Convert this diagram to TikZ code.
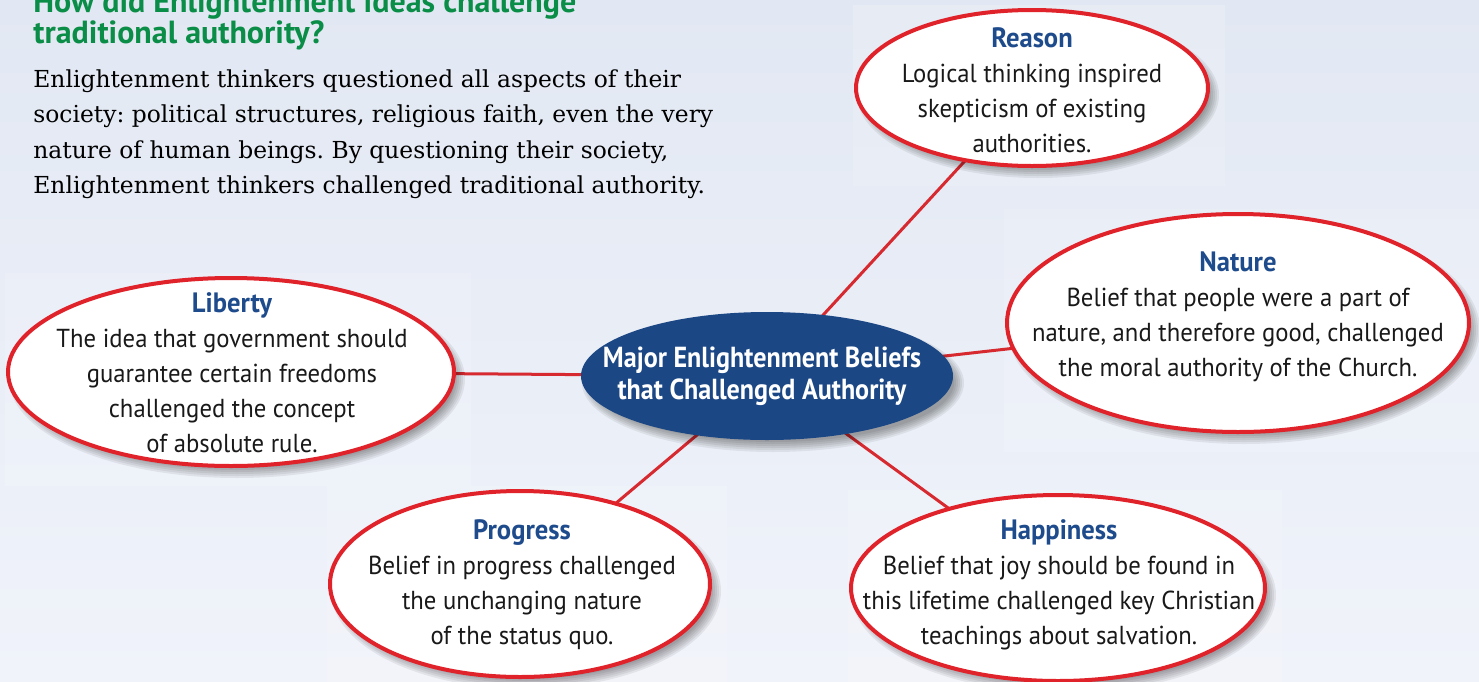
\documentclass[tikz,border=0pt]{standalone}
\usepackage{fontspec}
\setmainfont{DejaVu Serif}
\newfontfamily\bodysans[FakeStretch=0.95]{PT Sans}
\newfontfamily\condsans[FakeStretch=0.9]{PT Sans}
\newfontfamily\ttlsans{PT Sans}
\usetikzlibrary{shapes.geometric}
\pgfdeclarelayer{bg}
\pgfsetlayers{bg,main}
\definecolor{bgtop}{HTML}{E2E8F3}
\definecolor{bgbot}{HTML}{F0F3FA}
\definecolor{ttlgreen}{HTML}{0A8D47}
\definecolor{headblue}{HTML}{1E4B8C}
\definecolor{ringred}{HTML}{E0232B}
\definecolor{linered}{HTML}{D62A30}
\definecolor{hubblue}{HTML}{1B4785}
\tikzset{
  idea/.style={ellipse, draw=ringred, line width=2pt, fill=white, inner sep=0pt},
  ideatext/.style={align=center, inner sep=0pt, text=black!90,
    font=\bodysans\fontsize{13}{17.5}\selectfont},
  hub/.style={ellipse, fill=hubblue, inner sep=0pt},
  hubtext/.style={align=center, inner sep=0pt, text=white,
    font=\condsans\bfseries\fontsize{14.5}{16}\selectfont},
  link/.style={draw=linered, line width=1.5pt},
  ttl/.style={anchor=base west, inner sep=0pt, text=ttlgreen,
    font=\ttlsans\bfseries\fontsize{16}{18}\selectfont},
  para/.style={anchor=base west, inner sep=0pt, text=black,
    font=\fontsize{11.7}{17.7}\selectfont},
  shadowfill/.style={fill=black, opacity=0.065},
  panel/.style={fill=white, opacity=0.15},
}
\newcommand{\hd}[1]{{\fontsize{14}{17.5}\selectfont\bfseries\color{headblue}#1}}
% faint backing panel: centre x, centre y, x radius, y radius
\newcommand{\backpanel}[4]{%
  \fill[panel] (#1-#3-3,#2-#4-5) rectangle (#1+#3+17,#2+#4+20);%
}
% soft shadow: centre x, centre y, x radius, y radius (picture units)
\newcommand{\softshadow}[4]{%
  \foreach \k in {0,...,5}{%
    \fill[shadowfill] (#1+6,#2+7) ellipse [x radius={#3+5-2*\k}, y radius={#4+5-2*\k}];
  }%
}
\begin{document}
\frenchspacing
\begin{tikzpicture}[x=0.5pt,y=-0.5pt]
\useasboundingbox (0,0) rectangle (1479,681);
\begin{pgfonlayer}{bg}
  \shade[top color=bgtop, bottom color=bgbot] (0,0) rectangle (1479,681);
  \backpanel{1032}{88}{176}{78}
  \backpanel{1238}{323}{231}{109}
  \backpanel{231}{372}{223}{94}
  \backpanel{520}{584}{190}{93}
  \backpanel{1058}{588}{207}{93}
\end{pgfonlayer}

% title and paragraph
\node[ttl] (t1) at (33,12) {How did Enlightenment ideas challenge};
\node[ttl] (t2) at (33,43) {traditional authority?};
\node[para] (p1) at (33,87) {Enlightenment thinkers questioned all aspects of their};
\node[para] (p2) at (33,122.5) {society: political structures, religious faith, even the very};
\node[para] (p3) at (33,158) {nature of human beings. By questioning their society,};
\node[para] (p4) at (33,193.5) {Enlightenment thinkers challenged traditional authority.};

% shadows
\softshadow{1032}{88}{176}{78}
\softshadow{1238}{323}{231}{109}
\softshadow{231}{372}{223}{94}
\softshadow{520}{584}{190}{93}
\softshadow{1058}{588}{207}{93}
\softshadow{767}{376}{186}{64}

% ellipses
\node[idea, minimum width=176pt, minimum height=78pt] (reason) at (1032,88) {};
\node[idea, minimum width=231pt, minimum height=109pt] (nature) at (1238,323) {};
\node[idea, minimum width=223pt, minimum height=94pt] (liberty) at (231,372) {};
\node[idea, minimum width=190pt, minimum height=93pt] (progress) at (520,584) {};
\node[idea, minimum width=207pt, minimum height=93pt] (happiness) at (1058,588) {};
\node[hub, minimum width=186pt, minimum height=64pt] (hub) at (767,376) {};

\node[ideatext] (reason-t) at (1032,90) {\hd{Reason}\\Logical thinking inspired\\skepticism of existing\\authorities.};
\node[ideatext] (nature-t) at (1238,317) {\hd{Nature}\\Belief that people were a part of\\nature, and therefore good, challenged\\the moral authority of the Church.};
\node[ideatext] (liberty-t) at (232,373) {\hd{Liberty}\\The idea that government should\\guarantee certain freedoms\\challenged the concept\\of absolute rule.};
\node[ideatext] (progress-t) at (522,585) {\hd{Progress}\\Belief in progress challenged\\the unchanging nature\\of the status quo.};
\node[ideatext] (happiness-t) at (1059,585) {\hd{Happiness}\\Belief that joy should be found in\\this lifetime challenged key Christian\\teachings about salvation.};
\node[hubtext] (hub-t) at (762,376) {Major Enlightenment Beliefs\\that Challenged Authority};

\begin{pgfonlayer}{bg}
  \draw[link] (hub.center) -- (reason.center);
  \draw[link] (hub.center) -- (nature.center);
  \draw[link] (hub.center) -- (liberty.center);
  \draw[link] (hub.center) -- (progress.center);
  \draw[link] (hub.center) -- (happiness.center);
\end{pgfonlayer}
\end{tikzpicture}
\end{document}
